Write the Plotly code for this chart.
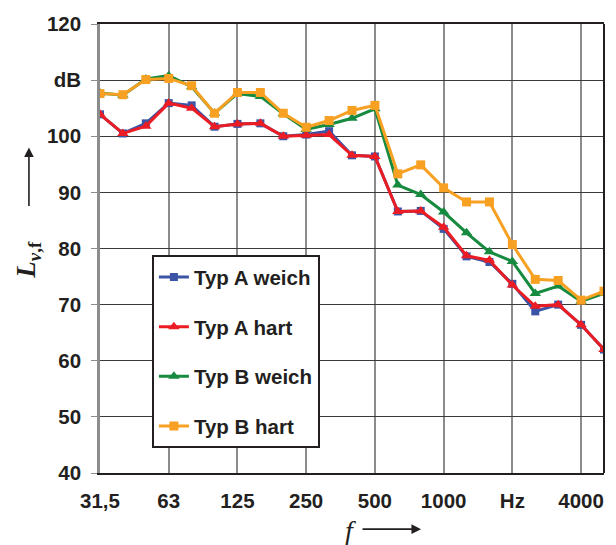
import plotly.graph_objects as go

freqs = ["31,5", "40", "50", "63", "80", "100", "125", "160", "200", "250", "315", "400",
         "500", "630", "800", "1000", "1250", "1600", "2000", "2500", "3150", "4000", "5000"]

typ_a_weich = [103.9, 100.5, 102.3, 105.9, 105.5, 101.7, 102.2, 102.3, 100.0, 100.3, 100.9, 96.6,
               96.4, 86.6, 86.7, 83.5, 78.6, 77.6, 73.7, 68.8, 70.0, 66.4, 62.0]
typ_a_hart = [103.9, 100.5, 101.8, 105.9, 105.0, 101.7, 102.2, 102.3, 100.0, 100.2, 100.3, 96.6,
              96.4, 86.6, 86.7, 83.8, 78.7, 77.9, 73.5, 69.7, 70.0, 66.4, 62.0]
typ_b_weich = [107.7, 107.3, 110.2, 110.8, 108.8, 104.1, 107.6, 107.1, 104.0, 101.2, 102.1, 103.2,
               104.9, 91.3, 89.6, 86.5, 82.8, 79.4, 77.7, 72.0, 73.3, 70.6, 72.0]
typ_b_hart = [107.6, 107.4, 110.1, 110.3, 109.0, 104.1, 107.8, 107.8, 104.1, 101.6, 102.8, 104.6,
              105.5, 93.3, 94.9, 90.8, 88.3, 88.3, 80.7, 74.5, 74.3, 70.8, 72.4]

x_tick_idx = [0, 3, 6, 9, 12, 15, 18, 21]
x_tick_text = ["31,5", "63", "125", "250", "500", "1000", "Hz", "4000"]
y_tick_vals = [40, 50, 60, 70, 80, 90, 100, 110, 120]
y_tick_text = ["40", "50", "60", "70", "80", "90", "100", "dB", "120"]

series = [
    ("Typ A weich", typ_a_weich, "#3B54A5", "square", 8),
    ("Typ A hart", typ_a_hart, "#EC1C24", "triangle-up", 10),
    ("Typ B weich", typ_b_weich, "#168A3E", "triangle-up", 10),
    ("Typ B hart", typ_b_hart, "#F7A021", "square", 9),
]

xs = list(range(len(freqs)))
fig = go.Figure()
for i, (name, vals, col, sym, sz) in enumerate(series):
    fig.add_trace(go.Scatter(
        x=xs, y=vals, name=name, mode="lines+markers",
        line=dict(color=col, width=3),
        marker=dict(symbol=sym, size=sz, color=col),
        legendgroup=f"g{i}",
    ))

tickfont = dict(family="Liberation Sans", size=20.5, color="#231F20", weight="bold")

fig.update_layout(
    width=616, height=545,
    margin=dict(l=100, r=12, t=22, b=72),
    plot_bgcolor="white", paper_bgcolor="white",
    showlegend=True,
    legend=dict(
        x=0.103, y=0.485, xanchor="left", yanchor="top",
        bgcolor="white", bordercolor="#231F20", borderwidth=2,
        font=dict(family="Liberation Sans", size=20.5, color="#231F20", weight="bold"),
        tracegroupgap=20, itemwidth=30,
    ),
    xaxis=dict(
        range=[0, 22], tickmode="array", tickvals=x_tick_idx, ticktext=x_tick_text,
        showgrid=True, gridcolor="#8C8C8C", gridwidth=2,
        showline=True, linecolor="#231F20", linewidth=2, mirror=True,
        ticks="", tickfont=tickfont, ticklabelstandoff=8, zeroline=False,
    ),
    yaxis=dict(
        range=[40, 120], tickmode="array", tickvals=y_tick_vals, ticktext=y_tick_text,
        showgrid=True, gridcolor="#3A3A3A", gridwidth=1.2,
        showline=True, linecolor="#8C8C8C", linewidth=2.5,
        ticks="outside", ticklen=6, tickcolor="#8C8C8C", tickwidth=1,
        tickfont=tickfont, ticklabelstandoff=6, zeroline=False,
    ),
    shapes=[dict(type="line", xref="paper", yref="paper", x0=1, x1=1, y0=0, y1=1,
                 line=dict(color="#231F20", width=2))],
    annotations=[
        dict(text="<b><i>L</i></b><sub><b><i>v</i>,f</b></sub>", xref="paper", yref="paper",
             x=-0.143, y=0.475, xanchor="center", yanchor="middle", textangle=-90,
             showarrow=False,
             font=dict(family="Liberation Serif", size=27, color="#231F20")),
        dict(text="", xref="paper", yref="paper", x=-0.141, y=0.725,
             ax=0, ay=60, showarrow=True, arrowhead=2, arrowsize=1.2, arrowwidth=1.6,
             arrowcolor="#231F20"),
        dict(text="<i>f</i>", xref="paper", yref="paper", x=0.497, y=-0.128,
             xanchor="center", yanchor="middle", showarrow=False,
             font=dict(family="Liberation Serif", size=28, color="#231F20")),
        dict(text="", xref="paper", yref="paper", x=0.637, y=-0.125,
             ax=-60, ay=0, showarrow=True, arrowhead=2, arrowsize=1.2, arrowwidth=1.6,
             arrowcolor="#231F20"),
    ],
)

fig.write_html("out.html", config={"displayModeBar": False},
               post_script="document.body.style.margin='0px';")
